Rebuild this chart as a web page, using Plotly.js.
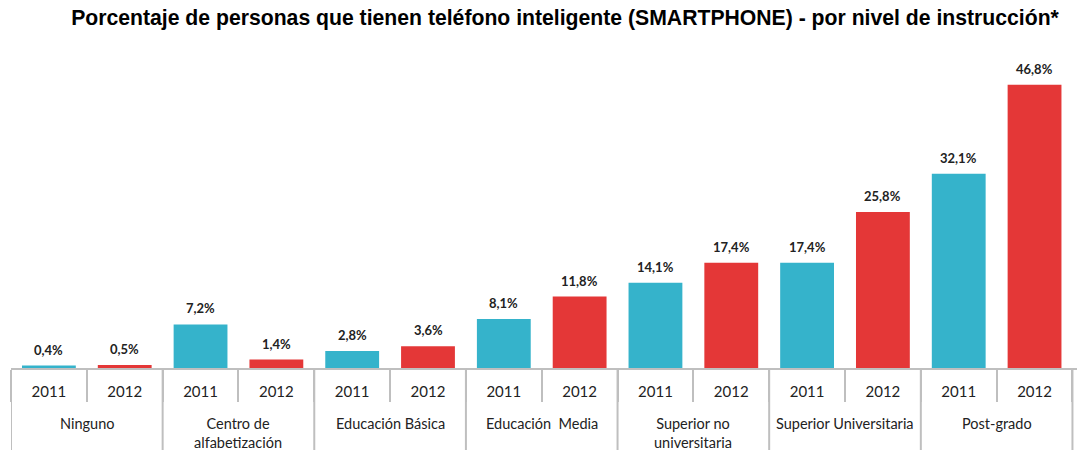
<!DOCTYPE html>
<html>
<head>
<meta charset="utf-8">
<script src="https://cdn.plot.ly/plotly-3.0.1.min.js"></script>
<style>html,body{margin:0;padding:0;background:#fff;}#chart{width:1077px;height:450px;}</style>
</head>
<body>
<div id="chart"></div>
<script>
const groups = ["Ninguno", "Centro de<br>alfabetización", "Educación Básica", "Educación  Media", "Superior no<br>universitaria", "Superior Universitaria", "Post-grado"];
const years = ["2011", "2012"];
const values2011 = [0.4, 7.2, 2.8, 8.1, 14.1, 17.4, 32.1];
const values2012 = [0.5, 1.4, 3.6, 11.8, 17.4, 25.8, 46.8];
const colors = {"2011": "#35B3CB", "2012": "#E43737"};

const xPos = [], xYear = [], yVals = [], barColors = [], labels = [];
groups.forEach((g, i) => {
  [values2011[i], values2012[i]].forEach((v, j) => {
    xPos.push(i * years.length + j);
    xYear.push(years[j]);
    yVals.push(v);
    barColors.push(colors[years[j]]);
    labels.push(v.toFixed(1).replace('.', ',') + '%');
  });
});
const nBars = xPos.length;
const lineColor = '#BFBFBF';
const yearFont = {family: 'Lato, sans-serif', size: 15, color: '#222'};
const groupFont = {family: 'Lato, sans-serif', size: 14.5, color: '#222'};

const trace = {
  type: 'bar',
  x: xPos,
  y: yVals,
  width: 0.71,
  marker: {color: barColors, line: {width: 0}},
  hoverinfo: 'none'
};

const annotations = [];
xPos.forEach((x, k) => {
  annotations.push({
    x: x, y: yVals[k], xref: 'x', yref: 'y',
    text: '<b>' + labels[k] + '</b>', showarrow: false,
    yanchor: 'bottom', yshift: 6,
    font: {family: 'Lato, sans-serif', size: 13, color: '#222'}
  });
});
groups.forEach((g, i) => {
  annotations.push({
    x: i * years.length + (years.length - 1) / 2, y: -0.146, xref: 'x', yref: 'paper',
    text: g, showarrow: false, yanchor: 'top', align: 'center',
    font: groupFont
  });
});

const shapes = [];
for (let i = 0; i <= groups.length; i++) {
  const xb = i * years.length - 0.5;
  shapes.push({type: 'line', xref: 'x', yref: 'paper', x0: xb, x1: xb, y0: 0, y1: -0.27,
    line: {color: lineColor, width: 2}});
}

const bounds = [];
for (let k = 0; k <= nBars; k++) bounds.push(k - 0.5);

const layout = {
  width: 1077, height: 450,
  margin: {l: 11, r: 0, t: 60, b: 82},
  paper_bgcolor: '#fff', plot_bgcolor: '#fff',
  showlegend: false,
  title: {
    text: '<b>Porcentaje de personas que tienen teléfono inteligente (SMARTPHONE) - por nivel de instrucción*</b>',
    font: {family: 'Liberation Sans, Arial, sans-serif', size: 21.2, color: '#000'},
    x: 0.5246, xanchor: 'center', y: 0.96, yanchor: 'middle'
  },
  xaxis: {
    type: 'linear',
    range: [-0.5, 13.56],
    showline: true, linecolor: lineColor, linewidth: 2,
    tickmode: 'array', tickvals: xPos, ticktext: xYear,
    ticks: 'outside', ticklen: 9, tickcolor: 'rgba(0,0,0,0)',
    minor: {tickmode: 'array', tickvals: bounds, ticks: 'outside', ticklen: 32, tickcolor: lineColor, tickwidth: 2, showgrid: false},
    tickfont: yearFont,
    showgrid: false, zeroline: false, fixedrange: true
  },
  yaxis: {
    range: [0, 50.9],
    visible: false, showgrid: false, zeroline: false, fixedrange: true
  },
  annotations: annotations,
  shapes: shapes
};

Plotly.newPlot('chart', [trace], layout, {displayModeBar: false, staticPlot: true});
</script>
</body>
</html>
